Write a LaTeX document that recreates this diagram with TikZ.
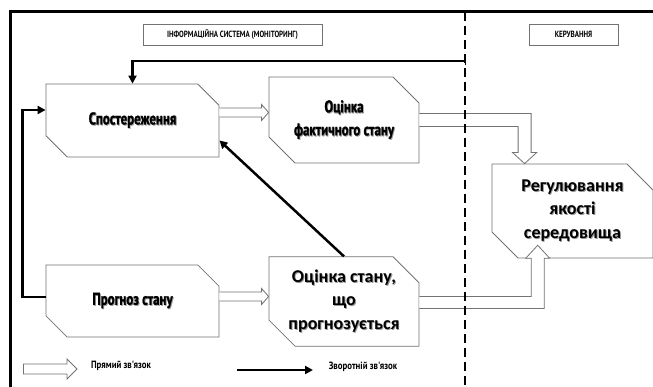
\documentclass[tikz,border=0pt]{standalone}
\usepackage{fontspec}
\setmainfont{Carlito}
\newfontfamily\nb[FakeStretch=0.78]{PT Sans}
\newfontfamily\nbl[FakeStretch=0.84]{PT Sans}
\newfontfamily\nbh[FakeStretch=0.76, FakeBold=1.2]{PT Sans Bold}
\usetikzlibrary{shapes.misc,calc,arrows.meta}
\newcommand\shd[1]{\leavevmode\rlap{\kern0.9pt\raisebox{-0.9pt}{\textcolor{black!40}{#1}}}#1}
\tikzset{
  blk/.style={chamfered rectangle, chamfered rectangle corners={north east,south west},
    chamfered rectangle xsep=13pt, chamfered rectangle ysep=13pt,
    draw=black!55, line width=0.8pt, fill=white, inner sep=0pt, align=center},
  lbl/.style={draw=black!55, line width=0.8pt, fill=white, inner sep=0pt,
    font=\nb\bfseries\fontsize{9}{10}\selectfont},
  hollow/.style={draw=black!55, line width=0.8pt, fill=white},
  fb/.style={line width=2.5pt, -{Triangle[length=8pt,width=8pt]}},
  cond/.style={font=\nbh\fontsize{17}{23}\selectfont},
  wide/.style={font=\bfseries\fontsize{18}{23.5}\selectfont},
  leg/.style={font=\nbl\bfseries\fontsize{10.5}{12}\selectfont, inner sep=0pt}
}
\newcommand\harrow[5]{% start, end, half shaft, half head, head length
  \draw[hollow] ($(#1)+(0,#3)$) -- ($(#2)+(-#5,#3)$) -- ($(#2)+(-#5,#4)$) -- (#2)
    -- ($(#2)+(-#5,-#4)$) -- ($(#2)+(-#5,-#3)$) -- ($(#1)+(0,-#3)$);}
\begin{document}
\begin{tikzpicture}[x=1pt,y=-1pt]
\useasboundingbox (0,0) rectangle (653,387);
\fill[white] (0,0) rectangle (653,387);
% frame
\draw[line width=3pt] (10,387) -- (10,12) -- (653,12);
% label boxes
\node[lbl, minimum width=179pt, minimum height=21pt] (info) at (232.5,34.5) {ІНФОРМАЦІЙНА СИСТЕМА (МОНІТОРИНГ)};
\node[lbl, minimum width=89pt, minimum height=21pt] (ker) at (573.5,34.5) {КЕРУВАННЯ};
% blocks
\node[blk, cond, minimum width=173pt, minimum height=73pt] (spost) at (132.5,120.5) {\shd{Спостереження}};
\node[blk, cond, minimum width=150pt, minimum height=86pt] (ofakt) at (344,120) {\shd{Оцінка}\\\shd{фактичного стану}};
\node[blk, wide, minimum width=161pt, minimum height=94pt] (reg) at (572.5,211) {\shd{Регулювання}\\\shd{якості}\\\shd{середовища}};
\node[blk, cond, minimum width=173pt, minimum height=72pt] (progn) at (132.5,301) {\shd{Прогноз стану}};
\node[blk, wide, minimum width=150pt, minimum height=87pt] (oprog) at (344,301.5) {\shd{Оцінка стану,}\\\shd{що}\\\shd{прогнозується}};
% hollow arrows
\coordinate (h1s) at ($(spost.east)+(0,8pt)$);
\coordinate (h1e) at (ofakt.west |- h1s);
\harrow{h1s}{h1e}{4.5pt}{8pt}{7pt}
\coordinate (h2s) at ($(progn.east)+(0,4.5pt)$);
\coordinate (h2e) at (oprog.west |- h2s);
\harrow{h2s}{h2e}{4.5pt}{8pt}{7pt}
% L arrow ofakt -> reg
\coordinate (t3) at ($(reg.north west)+(33pt,0)$);
\coordinate (s3) at (ofakt.east);
\coordinate (c3) at (t3 |- s3);
\draw[hollow] ($(s3)+(0,6.5pt)$) -- ($(c3)+(6.5pt,6.5pt)$) -- ($(t3)+(6.5pt,11pt)$)
  -- ($(t3)+(12pt,11pt)$) -- (t3) -- ($(t3)+(-12pt,11pt)$) -- ($(t3)+(-6.5pt,11pt)$)
  -- ($(c3)+(-6.5pt,-6.5pt)$) -- ($(s3)+(0,-6.5pt)$);
% L arrow oprog -> reg
\coordinate (t4) at ($(reg.south west)+(33pt,0)$);
\coordinate (s4) at ($(oprog.east)+(0,-1pt)$);
\coordinate (c4) at (t4 |- s4);
\draw[hollow] ($(s4)+(0,6pt)$) -- ($(c4)+(-6.5pt,6pt)$) -- ($(t4)+(-6.5pt,-13pt)$)
  -- ($(t4)+(-12pt,-13pt)$) -- (t4) -- ($(t4)+(12pt,-13pt)$) -- ($(t4)+(6.5pt,-13pt)$)
  -- ($(c4)+(6.5pt,-6pt)$) -- ($(s4)+(0,-6pt)$);
% dashed divider
\draw[line width=2.5pt, dash pattern=on 9pt off 5pt] (465,12) -- (465,387);
\coordinate (fbk) at (465,61);
% feedback arrows
\draw[line width=1pt] ($(fbk)+(0,-4pt)$) -- ($(fbk)+(0,4pt)$);
\draw[fb] (fbk) -| (spost.north);
\coordinate (p5) at ($(progn.west)+(0,4pt)$);
\coordinate (q5) at ($(spost.west)+(0,10.5pt)$);
\draw[fb] (p5) -- ++(-23,0) |- (q5);
\coordinate (q6) at ($(spost.south east)+(0,17pt)$);
\draw[fb] (oprog.north) -- (q6);
% legend
\coordinate (l1s) at (23,369);
\coordinate (l1e) at (77,369);
\harrow{l1s}{l1e}{5pt}{10pt}{10pt}
\draw[hollow] ($(l1s)+(0,5pt)$) -- ($(l1s)+(0,-5pt)$);
\node[leg] (lt1) at (121,366) {Прямий зв'язок};
\coordinate (l2s) at (237,370);
\coordinate (l2e) at (313,370);
\draw[fb] (l2s) -- (l2e);
\node[leg] (lt2) at (363,367) {Зворотній зв'язок};
\end{tikzpicture}
\end{document}
